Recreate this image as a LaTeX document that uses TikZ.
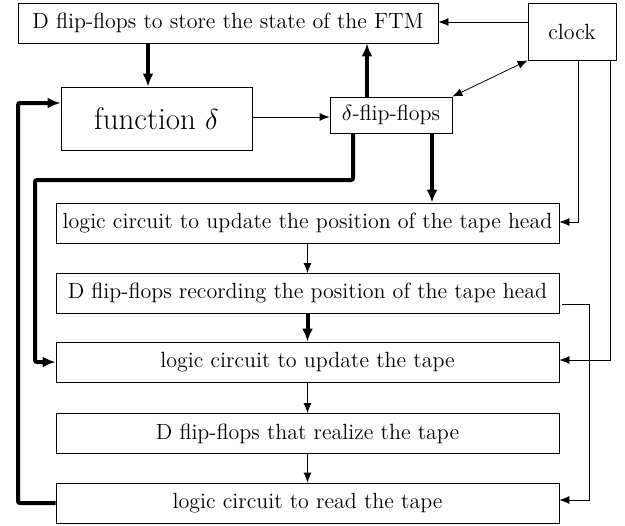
\documentclass[tikz,border=0pt]{standalone}
\usetikzlibrary{arrows.meta}
\begin{document}
\begin{tikzpicture}[x=0.5pt,y=-0.5pt,
  box/.style={draw,rectangle,inner sep=0pt,font=\fontsize{11}{13}\selectfont},
  thin arrow/.style={-{Latex[length=5pt,width=4pt]},line width=0.4pt},
  thick arrow/.style={-{Latex[length=6.5pt,width=5.5pt]},line width=2pt},
]
\useasboundingbox (0,0) rectangle (625,525);
\node[box,minimum width=210pt,minimum height=20pt] (ftm) at (228,23) {D flip-flops to store the state of the FTM};
\node[box,minimum width=44pt,minimum height=28.5pt] (clock) at (572,31.5) {clock};
\node[box,minimum width=95.5pt,minimum height=31.5pt,font=\fontsize{15.5}{18}\selectfont] (fd) at (156.5,118.5) {function $\delta$};
\node[box,minimum width=61pt,minimum height=18pt] (dff) at (391,115) {$\delta$-flip-flops};
\node[box,minimum width=251.5pt,minimum height=20pt] (uh) at (307.5,223) {logic circuit to update the position of the tape head};
\node[box,minimum width=251.5pt,minimum height=20pt] (rh) at (307.5,293.5) {D flip-flops recording the position of the tape head};
\node[box,minimum width=251.5pt,minimum height=20pt] (ut) at (307.5,362) {logic circuit to update the tape};
\node[box,minimum width=251.5pt,minimum height=20pt] (rt) at (307.5,433.5) {D flip-flops that realize the tape};
\node[box,minimum width=251.5pt,minimum height=20pt] (lt) at (307.5,503) {logic circuit to read the tape};

% top area
\draw[thick arrow] (ftm.south -| 148,0) -- (fd.north -| 148,0);
\draw[thick arrow] (dff.north -| 367,0) -- (ftm.south -| 367,0);
\draw[thin arrow] (fd.east |- 0,117) -- (dff.west |- 0,117);
\draw[thin arrow] (clock.west |- 0,22) -- (ftm.east |- 0,22);
\draw[{Latex[length=5pt,width=4pt]}-{Latex[length=5pt,width=4pt]},line width=0.4pt] (dff.north east) -- (clock.south west);

% delta-ff to update head
\draw[thick arrow] (dff.south -| 432,0) -- (uh.north -| 432,0);
% delta-ff to update tape
\draw[thick arrow,rounded corners=1pt] (dff.south -| 353,0) -- (353,180) -- (35,180) -- (35,362) -- (ut.west);
% read tape to function delta
\draw[thick arrow,rounded corners=1pt] (lt.west) -- (18,503) -- (18,103) -- (fd.west |- 0,103);

% chain
\draw[thin arrow] (uh) -- (rh);
\draw[thick arrow] (rh) -- (ut);
\draw[thin arrow] (ut) -- (rt);
\draw[thin arrow] (rt) -- (lt);

% clock lines
\draw[thin arrow] (clock.south -| 578,0) -- (578,222) -- (uh.east |- 0,222);
\draw[thin arrow] (clock.south -| 610,0) -- (610,360) -- (ut.east |- 0,360);
\draw[thin arrow] ([xshift=1.5pt]rh.east |- 0,304) -- (589,304) -- (589,500) -- (lt.east |- 0,500);
\end{tikzpicture}
\end{document}
